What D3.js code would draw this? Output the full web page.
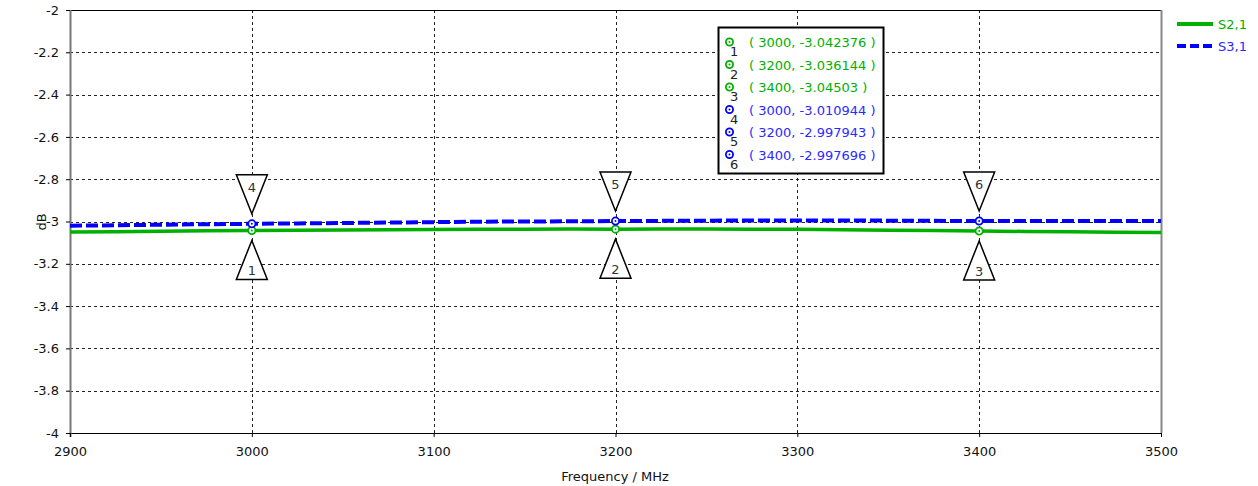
<!DOCTYPE html>
<html>
<head>
<meta charset="utf-8">
<script src="https://cdn.jsdelivr.net/npm/d3@7"></script>
<style>
  html, body { margin: 0; padding: 0; background: #fff; }
  svg { display: block; }
  text { font-family: "DejaVu Sans", sans-serif; }
</style>
</head>
<body>
<svg id="chart" width="1258" height="486"></svg>
<script>
// Frequency sweep (MHz)
const freq = [2900, 2925, 2950, 2975, 3000, 3025, 3050, 3075, 3100, 3125, 3150, 3175,
              3200, 3225, 3250, 3275, 3300, 3325, 3350, 3375, 3400, 3425, 3450, 3475, 3500];
// S2,1 magnitude (dB)
const s21 = [-3.050, -3.048, -3.046, -3.044, -3.042376, -3.041, -3.040, -3.039, -3.038, -3.037, -3.0365, -3.036,
             -3.036144, -3.036, -3.036, -3.0365, -3.037, -3.039, -3.041, -3.043, -3.04503, -3.047, -3.049, -3.051, -3.052];
// S3,1 magnitude (dB)
const s31 = [-3.020, -3.018, -3.015, -3.013, -3.010944, -3.009, -3.007, -3.005, -3.003, -3.001, -3.000, -2.999,
             -2.997943, -2.997, -2.996, -2.995, -2.995, -2.995, -2.996, -2.997, -2.997696, -2.998, -2.998, -2.998, -2.998];

// Marker readouts
const markerIds   = [1, 2, 3, 4, 5, 6];
const markerFreq  = [3000, 3200, 3400, 3000, 3200, 3400];
const markerValue = [-3.042376, -3.036144, -3.04503, -3.010944, -2.997943, -2.997696];
const markerLabel = ["-3.042376", "-3.036144", "-3.04503", "-3.010944", "-2.997943", "-2.997696"];
const markerSeries = [0, 0, 0, 1, 1, 1];

const seriesNames = ["S2,1", "S3,1"];
const xTicks = [2900, 3000, 3100, 3200, 3300, 3400, 3500];
const yTicks = [-2, -2.2, -2.4, -2.6, -2.8, -3, -3.2, -3.4, -3.6, -3.8, -4];

const colors = ["#00b000", "#0000ff"];
const textColors = ["#00b000", "#2a2aff"];

const svg = d3.select("#chart");
const L = 70, R = 1161, T = 10, B = 433;

const x = d3.scaleLinear().domain([2900, 3500]).range([L, R]);
const y = d3.scaleLinear().domain([-4, -2]).range([B, T]);

// plain hyphen for negative numbers
const fmt = d => String(d);

// grid
const grid = svg.append("g");
grid.selectAll("line.v").data(xTicks.slice(1, -1)).join("line")
  .attr("x1", d => Math.round(x(d)) + 0.5).attr("x2", d => Math.round(x(d)) + 0.5)
  .attr("y1", T).attr("y2", B)
  .attr("stroke", "#222").attr("stroke-width", 1).attr("stroke-dasharray", "3,3");
grid.selectAll("line.h").data(yTicks.slice(1, -1)).join("line")
  .attr("x1", L).attr("x2", R)
  .attr("y1", d => Math.round(y(d)) + 0.5).attr("y2", d => Math.round(y(d)) + 0.5)
  .attr("stroke", "#222").attr("stroke-width", 1).attr("stroke-dasharray", "3,3");

// frame
svg.append("line").attr("x1", L).attr("x2", R).attr("y1", T + 0.5).attr("y2", T + 0.5).attr("stroke", "#000");
svg.append("line").attr("x1", L).attr("x2", R).attr("y1", B + 0.5).attr("y2", B + 0.5).attr("stroke", "#000");
svg.append("line").attr("x1", L + 0.5).attr("x2", L + 0.5).attr("y1", T).attr("y2", B + 4).attr("stroke", "#777").attr("stroke-width", 2);
svg.append("line").attr("x1", R + 0.5).attr("x2", R + 0.5).attr("y1", T).attr("y2", B).attr("stroke", "#888").attr("stroke-width", 2);

// axes
const xAxis = d3.axisBottom(x).tickValues(xTicks).tickSize(4).tickFormat(fmt);
const gx = svg.append("g").attr("transform", `translate(0,${B})`).call(xAxis);
gx.select(".domain").remove();
gx.selectAll("line").attr("stroke", "#000");
gx.selectAll("text").attr("font-size", "13px").attr("font-family", "DejaVu Sans").attr("fill", "#111").attr("dy", "1.25em");

const yAxis = d3.axisLeft(y).tickValues(yTicks).tickSize(4).tickFormat(fmt);
const gy = svg.append("g").attr("transform", `translate(${L},0)`).call(yAxis);
gy.select(".domain").remove();
gy.selectAll("line").attr("stroke", "#000");
gy.selectAll("text").attr("font-size", "13px").attr("font-family", "DejaVu Sans").attr("fill", "#111").attr("x", -11);

svg.append("text").attr("x", 615).attr("y", 481).attr("text-anchor", "middle")
  .attr("font-size", "13px").attr("fill", "#111").text("Frequency / MHz");
svg.append("text").attr("transform", "translate(46,222) rotate(-90)").attr("text-anchor", "middle")
  .attr("font-size", "13px").attr("fill", "#111").text("dB");

// traces
const line = d3.line().x((d, i) => x(freq[i])).y(d => y(d));
svg.append("path").datum(s21).attr("d", line).attr("fill", "none")
  .attr("stroke", colors[0]).attr("stroke-width", 3.5);
svg.append("path").datum(s31).attr("d", line).attr("fill", "none")
  .attr("stroke", colors[1]).attr("stroke-width", 4).attr("stroke-dasharray", "12,4");

// marker triangles
const triW = 31, triH = 39, gap = 10;
markerIds.forEach((id, i) => {
  const cx = x(markerFreq[i]);
  const cy = y(markerValue[i]);
  const up = markerSeries[i] === 0; // S2,1 markers sit below the trace
  let pts, ty;
  if (up) {
    const tip = cy + gap;
    pts = [[cx, tip], [cx - triW / 2, tip + triH], [cx + triW / 2, tip + triH]];
    ty = tip + triH - 4;
  } else {
    const tip = cy - gap;
    pts = [[cx, tip], [cx - triW / 2, tip - triH], [cx + triW / 2, tip - triH]];
    ty = tip - triH + 17;
  }
  svg.append("polygon").attr("points", pts.map(p => p.join(",")).join(" "))
    .attr("fill", "#fff").attr("stroke", "#000").attr("stroke-width", 1.5);
  svg.append("text").attr("x", cx).attr("y", ty).attr("text-anchor", "middle")
    .attr("font-size", "13px").attr("fill", "#333").text(id);
});

// marker points
function markerDot(g, cx, cy, c) {
  g.append("circle").attr("cx", cx).attr("cy", cy).attr("r", 3.6)
    .attr("fill", "#fff").attr("stroke", c).attr("stroke-width", 1.8);
  g.append("circle").attr("cx", cx).attr("cy", cy).attr("r", 1).attr("fill", c);
}
markerIds.forEach((id, i) => {
  markerDot(svg, x(markerFreq[i]), y(markerValue[i]), colors[markerSeries[i]]);
});

// marker readout box
const box = svg.append("g");
box.append("rect").attr("x", 718.5).attr("y", 27.5).attr("width", 165).attr("height", 146)
  .attr("fill", "#fff").attr("stroke", "#000").attr("stroke-width", 2);
markerIds.forEach((id, i) => {
  const ry = 42 + i * 22.5;
  markerDot(box, 729.5, ry, colors[markerSeries[i]]);
  box.append("text").attr("x", 730).attr("y", ry + 14).attr("font-size", "13px")
    .attr("fill", "#222").text(id);
  box.append("text").attr("x", 749).attr("y", ry + 5).attr("font-size", "13px")
    .attr("fill", textColors[markerSeries[i]])
    .text(`( ${markerFreq[i]}, ${markerLabel[i]} )`);
});

// series legend
seriesNames.forEach((name, i) => {
  const ly = 24 + i * 22;
  svg.append("line").attr("x1", 1177).attr("x2", 1213).attr("y1", ly).attr("y2", ly)
    .attr("stroke", colors[i]).attr("stroke-width", 4)
    .attr("stroke-dasharray", i === 1 ? "9,4" : null);
  svg.append("text").attr("x", 1218).attr("y", ly + 5).attr("font-size", "13px")
    .attr("fill", textColors[i]).text(name);
});
</script>
</body>
</html>
